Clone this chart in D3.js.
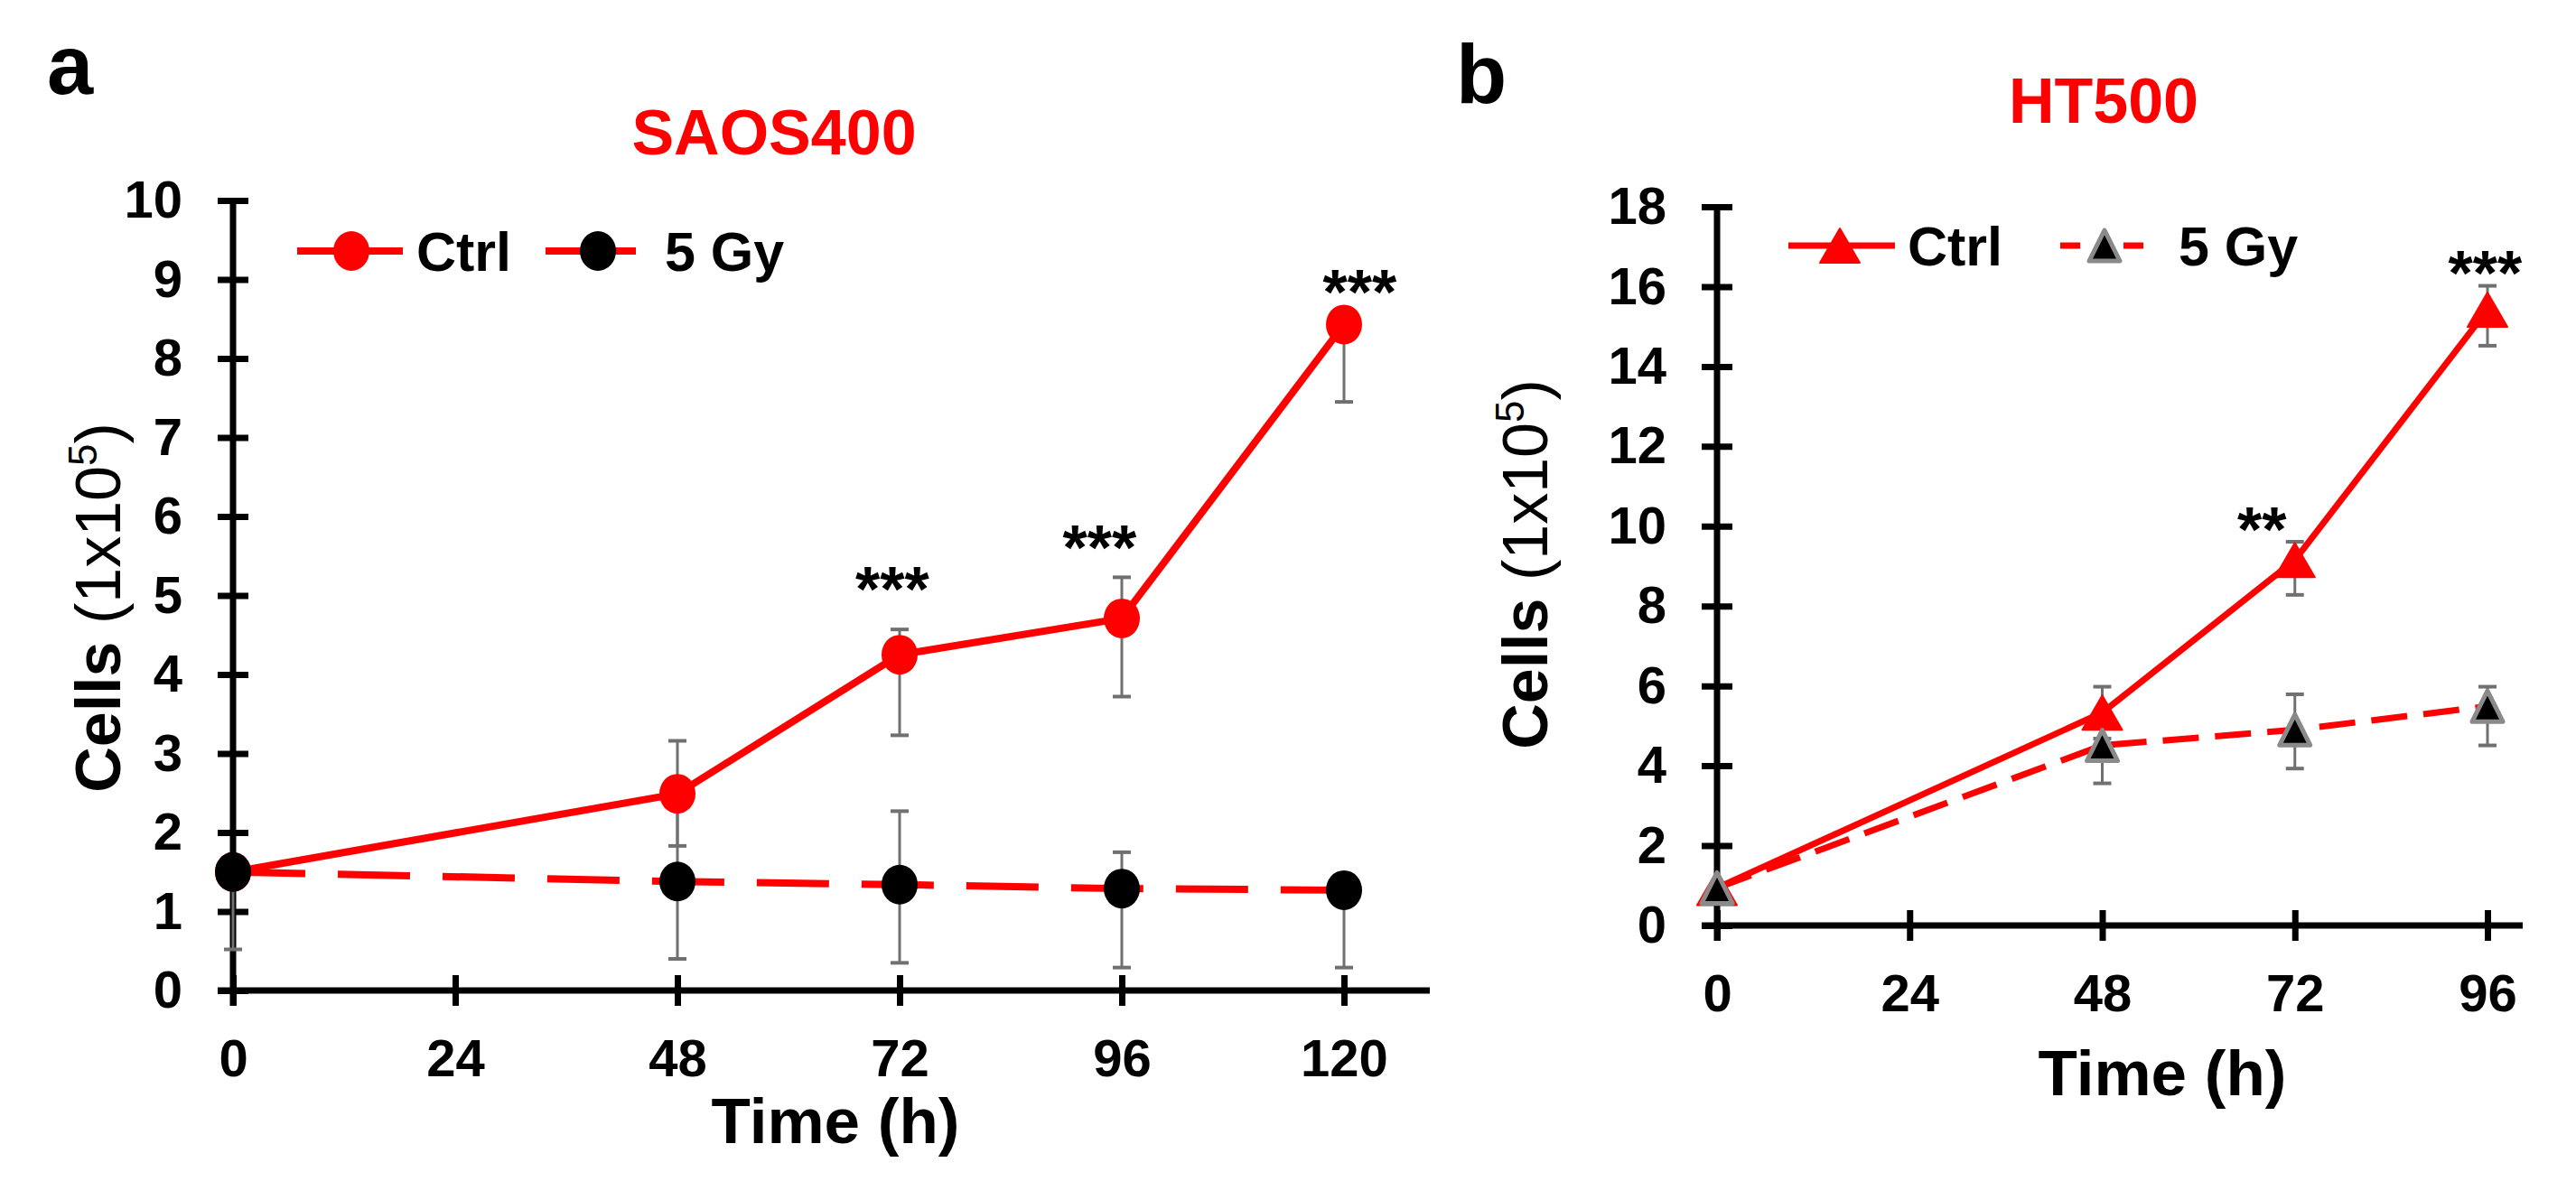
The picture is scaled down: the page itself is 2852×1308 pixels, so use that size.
<!DOCTYPE html>
<html>
<head>
<meta charset="utf-8">
<script src="https://cdn.jsdelivr.net/npm/d3@7"></script>
<style>
  body { margin: 0; background: #fff; }
  svg { display: block; font-family: "Liberation Sans", Arial, sans-serif; }
</style>
</head>
<body>
<div id="chart"></div>
<script>
// values (cells x10^5)
var timeA = [0, 48, 72, 96, 120];
var ctrlA = [1.50, 2.49, 4.25, 4.71, 8.43];
var ctrlAHi = [null, 3.16, 4.57, 5.23, null];
var ctrlALo = [null, 1.83, 3.23, 3.72, 7.45];
var gyA = [1.50, 1.38, 1.34, 1.29, 1.27];
var gyAHi = [null, 2.36, 2.27, 1.75, null];
var gyALo = [0.52, 0.40, 0.35, 0.29, 0.29];
var sigAx = [71.2, 93.6, 121.7];
var sigAy = [5.26, 5.78, 9.02];
var sigALabel = ["***", "***", "***"];
var ticksXA = [0, 24, 48, 72, 96, 120];
var ticksYA = [0, 1, 2, 3, 4, 5, 6, 7, 8, 9, 10];

var timeB = [0, 48, 72, 96];
var ctrlB = [0.94, 5.33, 9.15, 15.42];
var ctrlBHi = [null, 5.98, 9.61, 16.02];
var ctrlBLo = [null, 4.68, 8.28, 14.52];
var gyB = [0.94, 4.51, 4.90, 5.49];
var gyBHi = [null, 5.30, 5.79, 5.98];
var gyBLo = [null, 3.56, 3.93, 4.51];
var sigBx = [67.9, 95.7];
var sigBy = [10.27, 16.69];
var sigBLabel = ["**", "***"];
var ticksXB = [0, 24, 48, 72, 96];
var ticksYB = [0, 2, 4, 6, 8, 10, 12, 14, 16, 18];

var seriesNames = ["Ctrl", "5 Gy"];

var W = 2852, H = 1308;
var RED = "#ff0000";
var ERR = "#707070";

var svg = d3.select("#chart").append("svg")
    .attr("width", W)
    .attr("height", H);
svg.append("rect").attr("width", W).attr("height", H).attr("fill", "#fff");

function build(series) {
    return series.t.map(function (t, i) {
        return { t: t, v: series.v[i], hi: series.hi[i], lo: series.lo[i] };
    });
}

function drawPanel(p) {
    var g = svg.append("g");

    var x = d3.scaleLinear().domain([0, p.xMax]).range([p.left, p.right]);
    var y = d3.scaleLinear().domain([0, p.yMax]).range([p.bottom, p.top]);

    // y axis, ticks cross the line
    var yAxis = g.append("g")
        .attr("transform", "translate(" + p.left + ",0)")
        .call(d3.axisLeft(y).tickValues(p.yTicks).tickSize(17).tickSizeOuter(0).tickPadding(39));
    yAxis.select(".domain").remove();
    yAxis.selectAll(".tick line").attr("x1", -17).attr("x2", 17)
        .attr("stroke", "#000").attr("stroke-width", 7);
    yAxis.selectAll(".tick text")
        .attr("font-family", "Liberation Sans, Arial, sans-serif")
        .attr("font-size", 58).attr("font-weight", "bold").attr("fill", "#000");
    g.append("line")
        .attr("x1", p.left).attr("x2", p.left)
        .attr("y1", y(p.yMax) - 3).attr("y2", p.bottom + 17)
        .attr("stroke", "#000").attr("stroke-width", 7);

    // x axis
    var xAxis = g.append("g")
        .attr("transform", "translate(0," + p.bottom + ")")
        .call(d3.axisBottom(x).tickValues(p.xTicks).tickSize(17).tickSizeOuter(0).tickPadding(37));
    xAxis.select(".domain").remove();
    xAxis.selectAll(".tick line").attr("y1", -17).attr("y2", 17)
        .attr("stroke", "#000").attr("stroke-width", 7);
    xAxis.selectAll(".tick text")
        .attr("font-family", "Liberation Sans, Arial, sans-serif")
        .attr("font-size", 58).attr("font-weight", "bold").attr("fill", "#000");
    g.append("line")
        .attr("x1", p.left - 17).attr("x2", p.lineEnd)
        .attr("y1", p.bottom).attr("y2", p.bottom)
        .attr("stroke", "#000").attr("stroke-width", 7);

    var ctrl = build(p.ctrl), gy = build(p.gy);
    var line = d3.line().x(function (d) { return x(d.t); }).y(function (d) { return y(d.v); });

    // lines
    g.append("path").datum(ctrl).attr("d", line)
        .attr("fill", "none").attr("stroke", RED).attr("stroke-width", p.lw);
    g.append("path").datum(gy).attr("d", line)
        .attr("fill", "none").attr("stroke", RED).attr("stroke-width", p.lw)
        .attr("stroke-dasharray", p.dash);

    // error bars
    function errBars(data) {
        data.forEach(function (d) {
            [d.hi, d.lo].forEach(function (e) {
                if (e == null) return;
                g.append("line")
                    .attr("x1", x(d.t)).attr("x2", x(d.t))
                    .attr("y1", y(d.v)).attr("y2", y(e))
                    .attr("stroke", ERR).attr("stroke-width", 3);
                g.append("line")
                    .attr("x1", x(d.t) - 10).attr("x2", x(d.t) + 10)
                    .attr("y1", y(e)).attr("y2", y(e))
                    .attr("stroke", ERR).attr("stroke-width", 4);
            });
        });
    }
    errBars(ctrl);
    errBars(gy);

    // markers
    p.marker(g, ctrl.map(function (d) { return [x(d.t), y(d.v)]; }), "ctrl");
    p.marker(g, gy.map(function (d) { return [x(d.t), y(d.v)]; }), "gy");

    // significance stars
    g.selectAll("text.sig").data(p.sig.x).enter().append("text")
        .attr("class", "sig")
        .attr("x", function (d) { return x(d); })
        .attr("y", function (d, i) { return y(p.sig.y[i]) + 40; })
        .attr("text-anchor", "middle")
        .attr("font-size", 70).attr("font-weight", "bold")
        .text(function (d, i) { return p.sig.label[i]; });

    // legend
    var lg = p.legend;
    g.append("line").attr("x1", lg.c1).attr("x2", lg.c2).attr("y1", lg.y).attr("y2", lg.y)
        .attr("stroke", RED).attr("stroke-width", p.lw);
    p.marker(g, [[lg.cm, lg.y]], "ctrl");
    g.append("text").attr("x", lg.ct).attr("y", lg.y + 22)
        .attr("font-size", 61).attr("font-weight", "bold").text(seriesNames[0]);
    g.append("line").attr("x1", lg.g1).attr("x2", lg.g2).attr("y1", lg.y).attr("y2", lg.y)
        .attr("stroke", RED).attr("stroke-width", p.lw).attr("stroke-dasharray", lg.gdash);
    p.marker(g, [[lg.gm, lg.y]], "gy");
    g.append("text").attr("x", lg.gt).attr("y", lg.y + 22)
        .attr("font-size", 61).attr("font-weight", "bold").text(seriesNames[1]);

    // titles
    svg.append("text").attr("x", p.letter[0]).attr("y", p.letter[1])
        .attr("font-size", 92).attr("font-weight", "bold").text(p.letter[2]);
    svg.append("text").attr("x", p.title[0]).attr("y", p.title[1])
        .attr("text-anchor", "middle").attr("fill", RED)
        .attr("font-size", 70).attr("font-weight", "bold").text(p.title[2]);
    svg.append("text").attr("x", p.xTitle[0]).attr("y", p.xTitle[1])
        .attr("text-anchor", "middle")
        .attr("font-size", 71).attr("font-weight", "bold").text("Time (h)");
    var yt = svg.append("text")
        .attr("transform", "translate(" + p.yTitle[0] + "," + p.yTitle[1] + ") rotate(-90)")
        .attr("text-anchor", "middle")
        .attr("font-size", 70).attr("font-weight", "bold");
    yt.append("tspan").text("Cells ");
    yt.append("tspan").attr("font-weight", "normal").text("(1x10");
    yt.append("tspan").attr("font-weight", "normal").attr("font-size", 44).attr("dy", -26).text("5");
    yt.append("tspan").attr("font-weight", "normal").attr("dy", 26).text(")");
}

function circleMarker(g, pts, kind) {
    pts.forEach(function (pt) {
        g.append("ellipse").attr("cx", pt[0]).attr("cy", pt[1])
            .attr("rx", 20).attr("ry", 22)
            .attr("fill", kind === "ctrl" ? RED : "#000");
    });
}

function triMarker(g, pts, kind) {
    pts.forEach(function (pt) {
        var w = kind === "ctrl" ? 44 : 34, h = kind === "ctrl" ? 38 : 34;
        g.append("path")
            .attr("d", "M" + pt[0] + "," + (pt[1] - h / 2) + "L" + (pt[0] + w / 2) + "," + (pt[1] + h / 2) +
                "L" + (pt[0] - w / 2) + "," + (pt[1] + h / 2) + "Z")
            .attr("fill", kind === "ctrl" ? RED : "#000")
            .attr("stroke", kind === "ctrl" ? RED : "#8a8a8a")
            .attr("stroke-width", kind === "ctrl" ? 2 : 5)
            .attr("stroke-linejoin", "round");
    });
}

drawPanel({
    left: 258, right: 1488, xMax: 120, lineEnd: 1583,
    top: 222, bottom: 1097, yMax: 10,
    xTicks: ticksXA, yTicks: ticksYA,
    ctrl: { t: timeA, v: ctrlA, hi: ctrlAHi, lo: ctrlALo },
    gy: { t: timeA, v: gyA, hi: gyAHi, lo: gyALo },
    sig: { x: sigAx, y: sigAy, label: sigALabel },
    lw: 8, dash: "80,36",
    marker: circleMarker,
    legend: { y: 278, c1: 329, c2: 446, cm: 389, ct: 461, g1: 604, g2: 704, gm: 662, gt: 736, gdash: "42,18" },
    letter: [52, 104, "a"],
    title: [857, 171, "SAOS400"],
    xTitle: [925, 1266],
    yTitle: [133, 673]
});

drawPanel({
    left: 1901, right: 2754, xMax: 96, lineEnd: 2793,
    top: 229, bottom: 1025, yMax: 18,
    xTicks: ticksXB, yTicks: ticksYB,
    ctrl: { t: timeB, v: ctrlB, hi: ctrlBHi, lo: ctrlBLo },
    gy: { t: timeB, v: gyB, hi: gyBHi, lo: gyBLo },
    sig: { x: sigBx, y: sigBy, label: sigBLabel },
    lw: 7, dash: "40,18",
    marker: triMarker,
    legend: { y: 272, c1: 1980, c2: 2098, cm: 2037, ct: 2112, g1: 2281, g2: 2375, gm: 2330, gt: 2412, gdash: "22,48" },
    letter: [1612, 114, "b"],
    title: [2329, 136, "HT500"],
    xTitle: [2394, 1213],
    yTitle: [1713, 625]
});
</script>
</body>
</html>
